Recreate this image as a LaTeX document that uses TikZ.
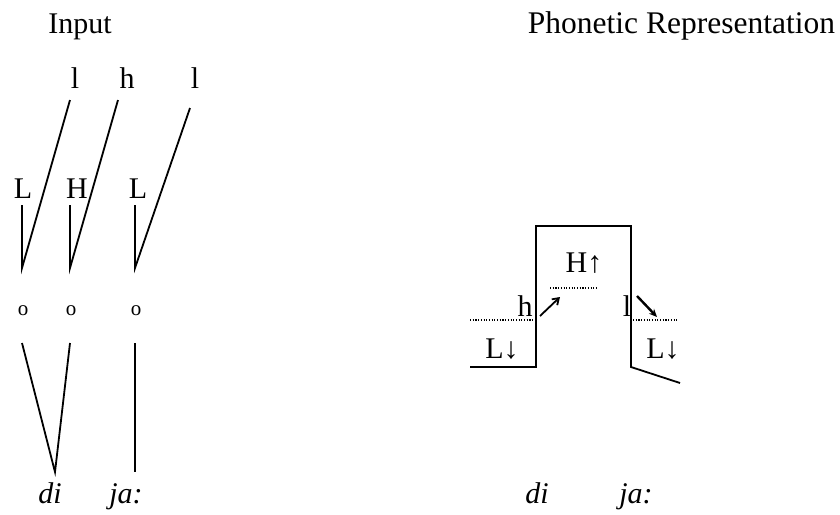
\documentclass[tikz,border=0pt]{standalone}
\usepackage{fontspec}
\setmainfont{Liberation Serif}
\usetikzlibrary{arrows.meta}
\begin{document}
\begin{tikzpicture}[x=1pt,y=-1pt,
  txt/.style={font=\fontsize{30}{36}\selectfont, anchor=base, inner sep=0pt},
  small/.style={font=\fontsize{21}{25}\selectfont, anchor=base, inner sep=0pt},
  ln/.style={line width=1.8pt},
  dots/.style={line width=1.2pt, dash pattern=on 1.1pt off 1.6pt}]
\useasboundingbox (0,0) rectangle (840,514);
% titles
\node[txt] (tin) at (80,33) {Input};
\node[txt, font=\fontsize{31.5}{36}\selectfont] (tout) at (681.5,33) {Phonetic Representation};
% ---------- left panel ----------
\node[txt] (l1) at (75,88) {l};
\node[txt] (h1) at (127,88) {h};
\node[txt] (l2) at (195,88) {l};
\node[txt] (L1) at (23,198) {L};
\node[txt] (H1) at (77,198) {H};
\node[txt] (L2) at (138,198) {L};
\coordinate (a1) at (70,100);
\coordinate (a2) at (118,100);
\coordinate (a3) at (190,108);
\coordinate (b1) at (22,205);
\coordinate (b2) at (70,205);
\coordinate (b3) at (135,205);
\coordinate (c1) at (22,268);
\coordinate (c2) at (70,268);
\coordinate (c3) at (135,268);
\draw[ln] (a1) -- (c1) -- (b1);
\draw[ln] (a2) -- (c2) -- (b2);
\draw[ln] (a3) -- (c3) -- (b3);
\node[small] (o1) at (23,315) {o};
\node[small] (o2) at (71,315) {o};
\node[small] (o3) at (136,315) {o};
\coordinate (d1) at (22,343);
\coordinate (d2) at (70,343);
\coordinate (d3) at (135,343);
\coordinate (e1) at (55,472);
\coordinate (e3) at (135,472);
\draw[ln] (d1) -- (e1) -- (d2);
\draw[ln] (d3) -- (e3);
\node[txt] (w1) at (50,503) {\itshape di};
\node[txt] (w2) at (126,503) {\itshape ja:};
% ---------- right panel ----------
\coordinate (p0) at (470,367);
\coordinate (p1) at (536,367);
\coordinate (p2) at (536,226);
\coordinate (p3) at (631,226);
\coordinate (p4) at (631,367);
\coordinate (p5) at (680,383);
\draw[ln] (p0) -- (p1) -- (p2) -- (p3) -- (p4) -- (p5);
\node[txt] (Hu) at (584,272) {H↑};
\node[txt] (hh) at (525,316) {h};
\node[txt] (ll) at (627,316) {l};
\node[txt] (Ld1) at (502,358) {L↓};
\node[txt] (Ld2) at (663,358) {L↓};
\coordinate (q1) at (550,288);
\coordinate (q2) at (597,288);
\coordinate (r1) at (470,320);
\coordinate (r2) at (533,320);
\coordinate (s1) at (633,320);
\coordinate (s2) at (677,320);
\draw[dots] (q1) -- (q2);
\draw[dots] (r1) -- (r2);
\draw[dots] (s1) -- (s2);
\coordinate (ha) at (540,316);
\coordinate (hb) at (560,297);
\coordinate (la) at (637,296);
\coordinate (lb) at (657,317);
\draw[line width=1.8pt,-{Straight Barb[length=6pt,width=8pt]}] (ha) -- (hb);
\draw[line width=2.4pt,-{Stealth[length=8pt,width=7pt]}] (la) -- (lb);
\node[txt] (w3) at (537,503) {\itshape di};
\node[txt] (w4) at (636,503) {\itshape ja:};
\end{tikzpicture}
\end{document}
